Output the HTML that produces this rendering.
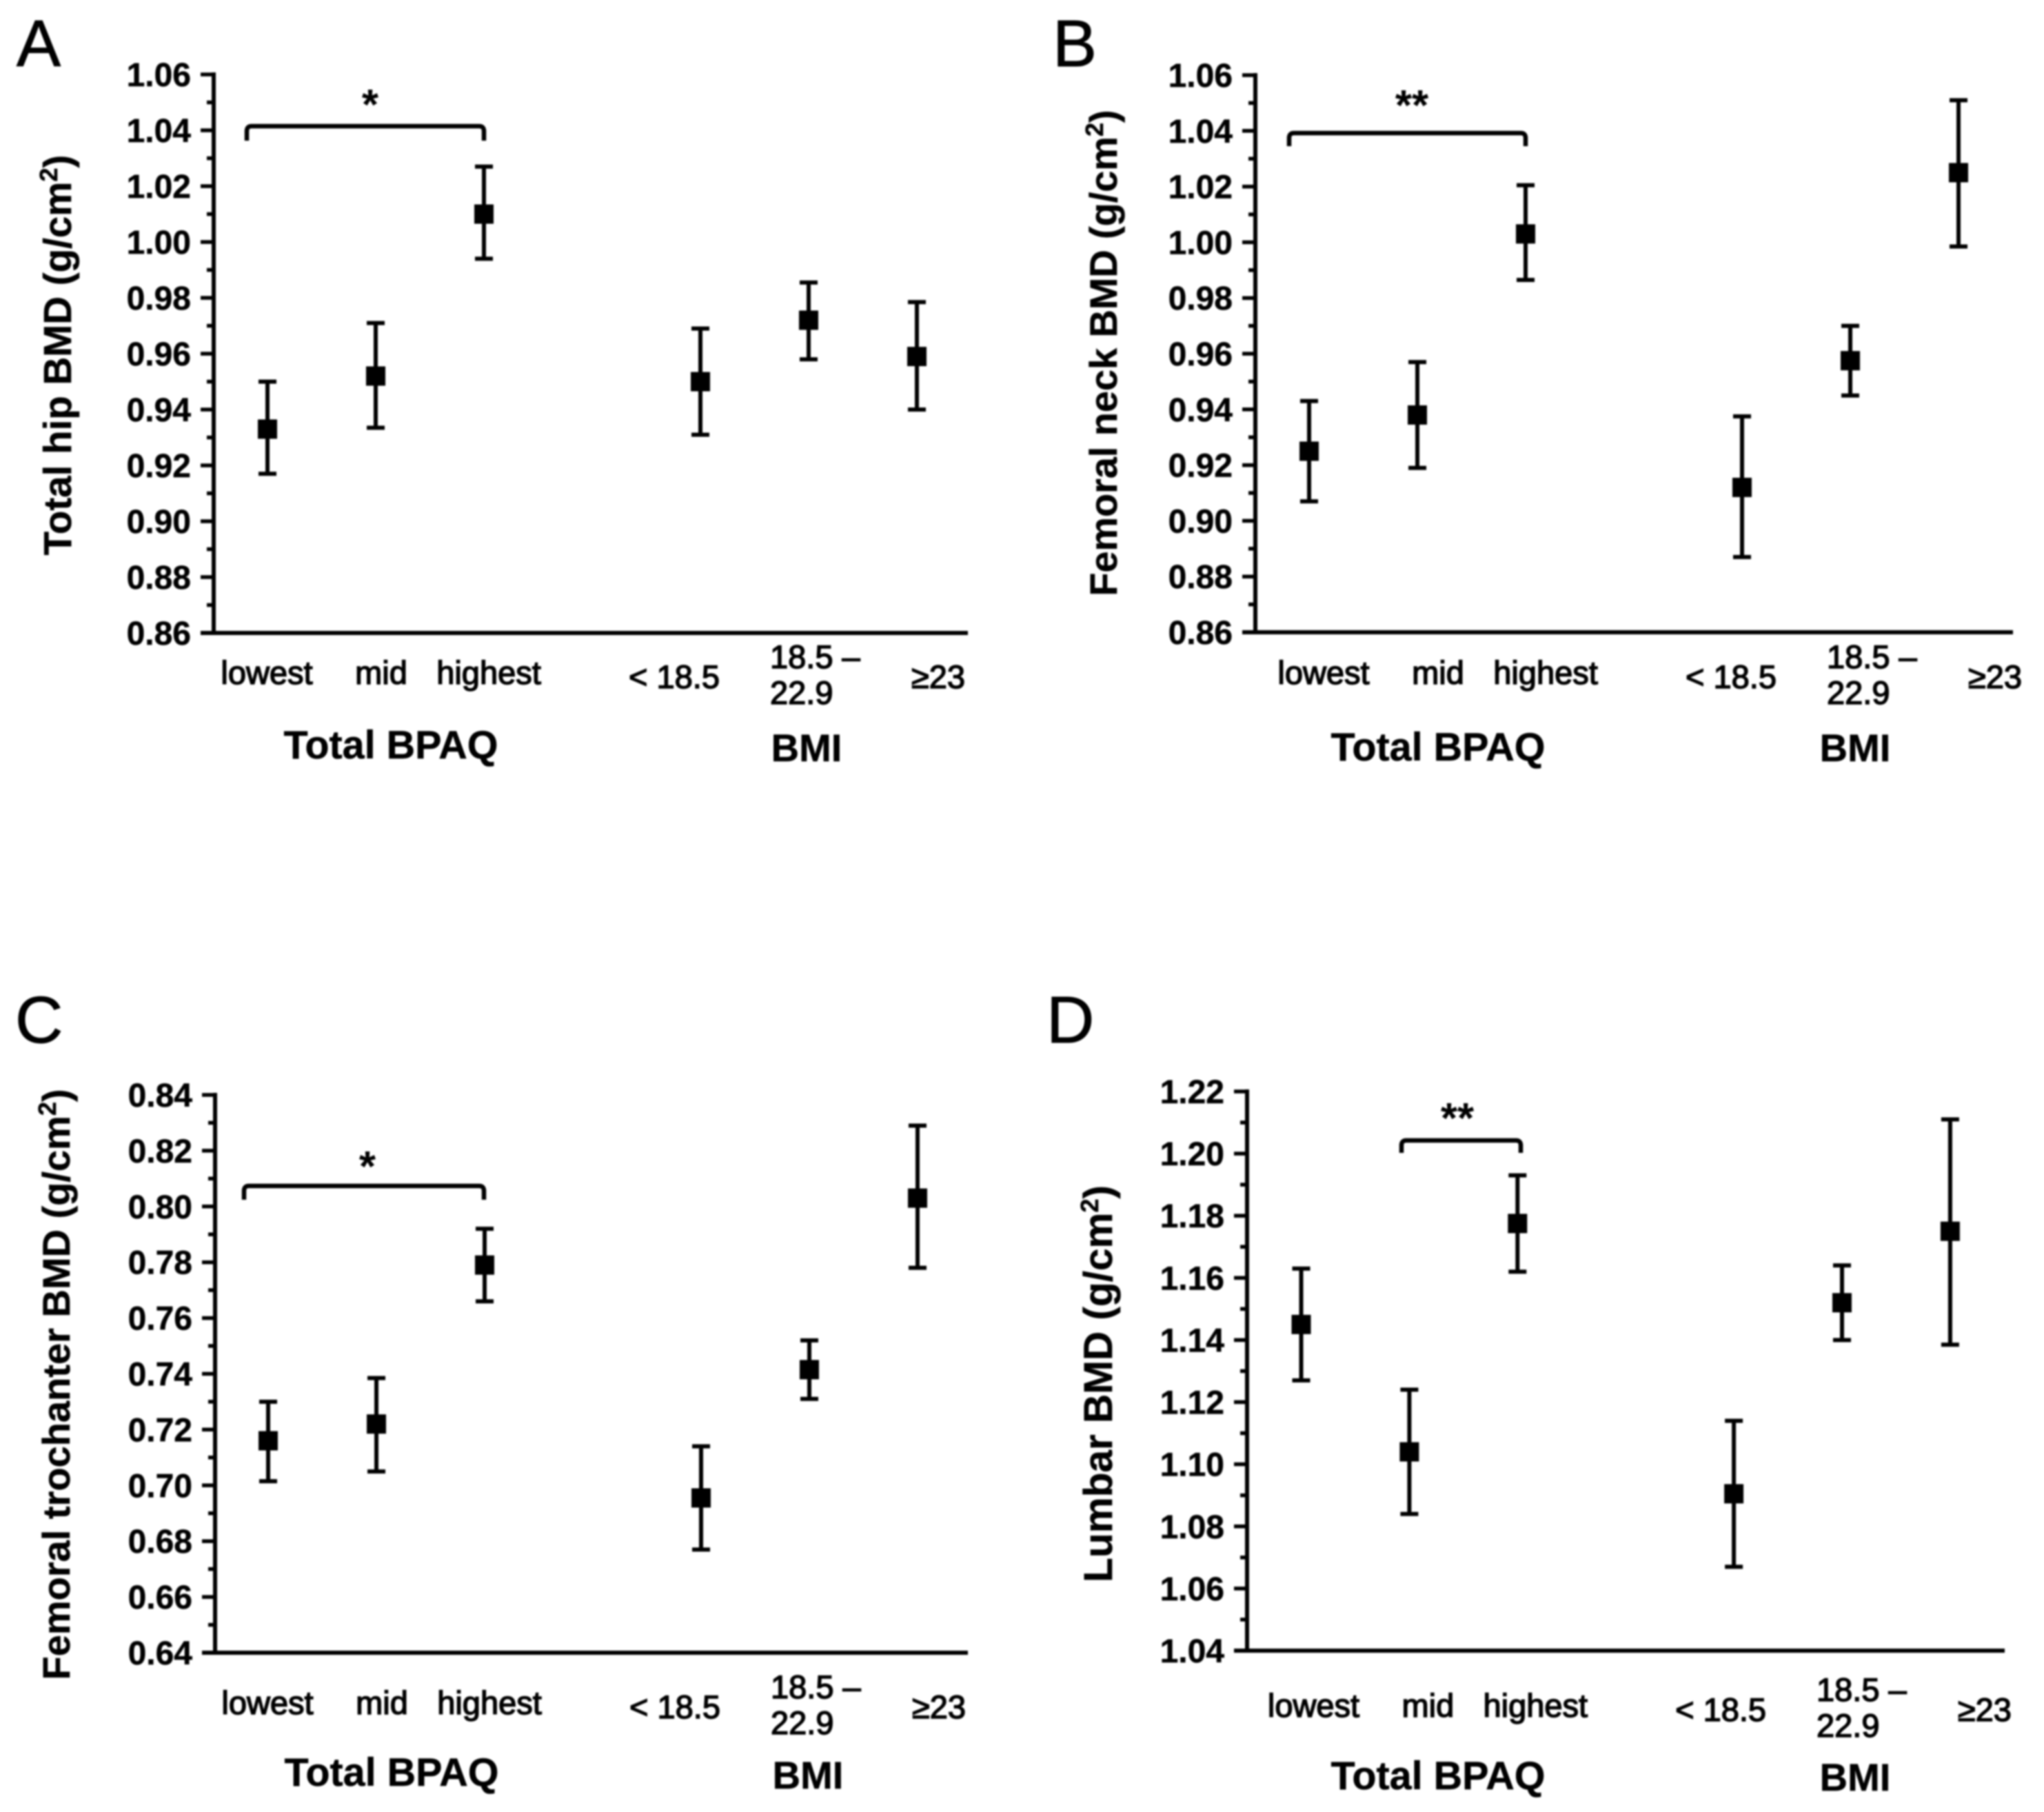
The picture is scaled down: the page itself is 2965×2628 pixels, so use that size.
<!DOCTYPE html>
<html lang="en">
<head>
<meta charset="utf-8">
<title>BMD by Total BPAQ and BMI</title>
<style>
html,body{margin:0;padding:0;background:#fff;}
svg{display:block;font-family:"Liberation Sans","DejaVu Sans",sans-serif;}
</style>
</head>
<body>
<svg id="figure" width="2965" height="2628" viewBox="0 0 2965 2628" xmlns="http://www.w3.org/2000/svg">
<defs><filter id="soft" x="-2%" y="-2%" width="104%" height="104%"><feGaussianBlur stdDeviation="1.2"/></filter></defs>
<rect width="2965" height="2628" fill="#fff"/>
<g id="root" filter="url(#soft)"></g>
</svg>
<script>
const categories = ["lowest", "mid", "highest", "< 18.5", "18.5 –|22.9", "≥23"];
const groupTitles = ["Total BPAQ", "BMI"];

const ticksA = ["0.86","0.88","0.90","0.92","0.94","0.96","0.98","1.00","1.02","1.04","1.06"];
const meansA = [0.933, 0.952, 1.010, 0.950, 0.972, 0.959];
const upperA = [0.950, 0.971, 1.027, 0.969, 0.9855, 0.9785];
const lowerA = [0.917, 0.9335, 0.994, 0.931, 0.958, 0.940];

const ticksB = ["0.86","0.88","0.90","0.92","0.94","0.96","0.98","1.00","1.02","1.04","1.06"];
const meansB = [0.925, 0.938, 1.003, 0.912, 0.9575, 1.025];
const upperB = [0.943, 0.957, 1.0205, 0.9375, 0.970, 1.051];
const lowerB = [0.907, 0.919, 0.9865, 0.887, 0.945, 0.9985];

const ticksC = ["0.64","0.66","0.68","0.70","0.72","0.74","0.76","0.78","0.80","0.82","0.84"];
const meansC = [0.716, 0.722, 0.779, 0.6955, 0.7415, 0.803];
const upperC = [0.730, 0.7385, 0.792, 0.714, 0.752, 0.829];
const lowerC = [0.7015, 0.705, 0.766, 0.677, 0.731, 0.778];

const ticksD = ["1.04","1.06","1.08","1.10","1.12","1.14","1.16","1.18","1.20","1.22"];
const meansD = [1.145, 1.104, 1.1775, 1.0905, 1.152, 1.175];
const upperD = [1.163, 1.124, 1.193, 1.114, 1.164, 1.211];
const lowerD = [1.127, 1.084, 1.162, 1.067, 1.140, 1.1385];

const panels = [
  {id:"a", letter:"A", lx:24, ly:96, title:"Total hip BMD (g/cm", tx:103, tc:515, titleSize:56.5,
   ticks:ticksA, means:meansA, upper:upperA, lower:lowerA,
   ax:310, top:108, bot:918, end:1404, first:388, step:157,
   labelShift:1, labelY:992, groupY:1100, bmiY:1104, groupShiftT:567, groupShiftB:1170,
   bracket:{a:0, b:2, y:183, drop:21, xl:358, xr:702, stars:"*", sx:537, sy:173}},
  {id:"b", letter:"B", lx:1527, ly:96, title:"Femoral neck BMD (g/cm", tx:1620, tc:512, titleSize:55.8,
   ticks:ticksB, means:meansB, upper:upperB, lower:lowerB,
   ax:1821, top:109, bot:917, end:2920, first:1899, step:157,
   labelShift:23, labelY:992, groupY:1103, bmiY:1104, groupShiftT:2086, groupShiftB:2691,
   bracket:{a:0, b:2, y:193, drop:19, xl:1870, xr:2213, stars:"**", sx:2048, sy:174}},
  {id:"c", letter:"C", lx:22, ly:1512, title:"Femoral trochanter BMD (g/cm", tx:101, tc:2008, titleSize:56,
   ticks:ticksC, means:meansC, upper:upperC, lower:lowerC,
   ax:312, top:1588, bot:2397, end:1404, first:389, step:157,
   labelShift:1, labelY:2486, groupY:2590, bmiY:2594, groupShiftT:568, groupShiftB:1172,
   bracket:{a:0, b:2, y:1720, drop:20, xl:354, xr:702, stars:"*", sx:533, sy:1713}},
  {id:"d", letter:"D", lx:1518, ly:1512, title:"Lumbar BMD (g/cm", tx:1613, tc:2007, titleSize:58.5,
   ticks:ticksD, means:meansD, upper:upperD, lower:lowerD,
   ax:1809, top:1583, bot:2394, end:2908, first:1887.5, step:156.9,
   labelShift:20, labelY:2490, groupY:2595, bmiY:2597, groupShiftT:2086, groupShiftB:2691,
   bracket:{a:1, b:2, y:1654, drop:18, xl:2033, xr:2206, stars:"**", sx:2114, sy:1643}}
];

const labelOffsets = [-2, 7, 6, -39, -57, 30];
const NS = "http://www.w3.org/2000/svg";
const root = document.getElementById("root");
const INK = "#000";

function mk(tag, attrs, parent, text) {
  const el = document.createElementNS(NS, tag);
  for (const k in attrs) el.setAttribute(k, attrs[k]);
  if (text !== undefined) el.textContent = text;
  parent.appendChild(el);
  return el;
}

panels.forEach(function (p) {
  const g = mk("g", {}, root);
  
  

  const tickVals = p.ticks.map(Number);
  const vMin = tickVals[0];
  const vMax = tickVals[tickVals.length - 1];
  const yScale = function (v) { return p.bot - (v - vMin) / (vMax - vMin) * (p.bot - p.top); };
  const xScale = function (i) { return p.first + (i >= 3 ? i + 1 : i) * p.step; };

  const letter = mk("text", {x:p.lx, y:p.ly, "font-size":96, fill:INK, stroke:INK, "stroke-width":1}, g, p.letter);
  
  

  const yAxis = mk("line", {x1:p.ax, x2:p.ax, y1:p.top - 3, y2:p.bot + 3, stroke:INK, "stroke-width":6}, g);
  
  

  const xAxis = mk("line", {x1:p.ax - 19, x2:p.end, y1:p.bot, y2:p.bot, stroke:INK, "stroke-width":6}, g);
  
  

  tickVals.forEach(function (v, i) {
    const y = yScale(v);
    const tick = mk("line", {x1:p.ax - 19, x2:p.ax, y1:y, y2:y, stroke:INK, "stroke-width":5.5}, g);
    
    

    const lab = mk("text", {x:p.ax - 33, y:y + 17, "text-anchor":"end", "font-size":48, "font-weight":"bold", fill:INK, stroke:INK, "stroke-width":0.5}, g, p.ticks[i]);
    
    

    if (i < tickVals.length - 1) {
      const my = yScale((v + tickVals[i + 1]) / 2);
      const minor = mk("line", {x1:p.ax - 10, x2:p.ax, y1:my, y2:my, stroke:INK, "stroke-width":5.5}, g);
      
      
    }
  });

  const yTitle = mk("text", {x:0, y:0, "text-anchor":"middle", "font-size":p.titleSize, "font-weight":"bold", fill:INK, stroke:INK, "stroke-width":0.5,
    transform:"translate(" + p.tx + "," + p.tc + ") rotate(-90)"}, g, p.title);
  
  
  mk("tspan", {"font-size":36, dy:-20}, yTitle, "2");
  mk("tspan", {dy:20}, yTitle, ")");

  categories.forEach(function (c, i) {
    const cx = xScale(i);
    const off = labelOffsets[i] + p.labelShift;
    const lines = c.split("|");
    if (lines.length === 2) {
      const l1 = mk("text", {x:cx + off, y:p.labelY - 23, "font-size":47, fill:INK, stroke:INK, "stroke-width":1.5}, g, lines[0]);
      
      
      const l2 = mk("text", {x:cx + off, y:p.labelY + 29, "font-size":47, fill:INK, stroke:INK, "stroke-width":1.5}, g, lines[1]);
      
      
    } else {
      const dy = i >= 3 ? 6 : 0;
      const l = mk("text", {x:cx + off, y:p.labelY + dy, "text-anchor":"middle", "font-size":47, fill:INK, stroke:INK, "stroke-width":1.5}, g, c);
      
      
    }
  });

  const gt1 = mk("text", {x:p.groupShiftT, y:p.groupY, "text-anchor":"middle", "font-size":57.5, "font-weight":"bold", fill:INK, stroke:INK, "stroke-width":0.5}, g, groupTitles[0]);
  
  
  const gt2 = mk("text", {x:p.groupShiftB, y:p.bmiY, "text-anchor":"middle", "font-size":56, "font-weight":"bold", fill:INK, stroke:INK, "stroke-width":0.5}, g, groupTitles[1]);
  
  

  p.means.forEach(function (m, i) {
    const cx = xScale(i);
    const yH = yScale(p.upper[i]);
    const yL = yScale(p.lower[i]);
    const yM = yScale(m);

    const bar = mk("line", {x1:cx, x2:cx, y1:yH, y2:yL, stroke:INK, "stroke-width":6}, g);
    
    

    const capH = mk("line", {x1:cx - 13, x2:cx + 13, y1:yH, y2:yH, stroke:INK, "stroke-width":6}, g);
    
    

    const capL = mk("line", {x1:cx - 13, x2:cx + 13, y1:yL, y2:yL, stroke:INK, "stroke-width":6}, g);
    
    

    const mark = mk("rect", {x:cx - 14, y:yM - 14, width:28, height:28, fill:INK}, g);
    
    
  });

  const b = p.bracket;
  const r = 7;
  const d = "M" + b.xl + " " + (b.y + b.drop) + "V" + (b.y + r) + "Q" + b.xl + " " + b.y + " " + (b.xl + r) + " " + b.y +
            "H" + (b.xr - r) + "Q" + b.xr + " " + b.y + " " + b.xr + " " + (b.y + r) + "V" + (b.y + b.drop);
  const br = mk("path", {d:d, fill:"none", stroke:INK, "stroke-width":6.5}, g);
  
  

  const st = mk("text", {x:b.sx, y:b.sy, "text-anchor":"middle", "font-size":62, "font-weight":"bold", fill:INK}, g, b.stars);
  
  
});
</script>
</body>
</html>
